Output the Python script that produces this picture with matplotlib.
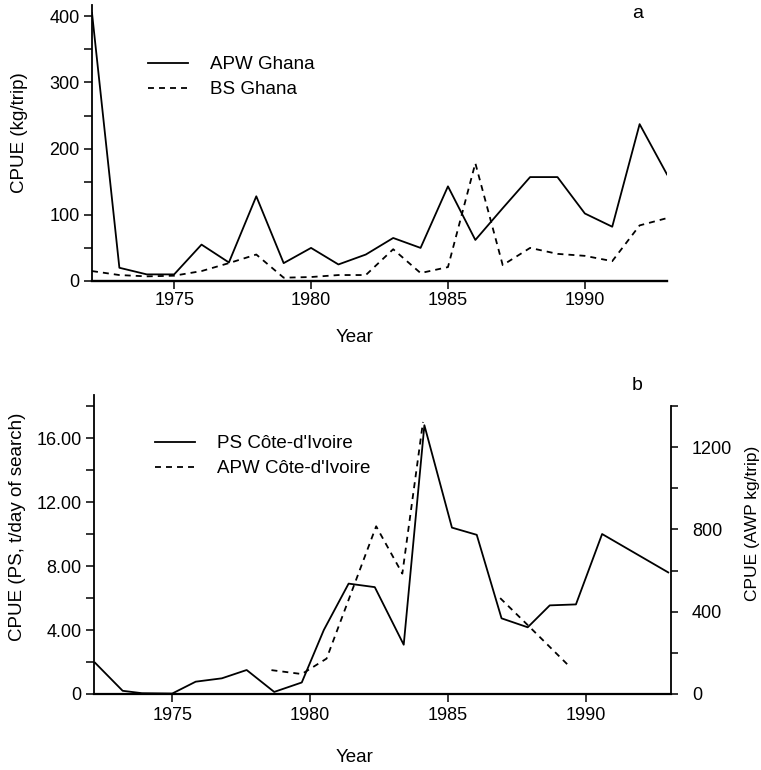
import numpy as np
import matplotlib
matplotlib.use("Agg")
import matplotlib.pyplot as plt
from matplotlib.ticker import FixedLocator

plt.rcParams["font.family"] = ["Liberation Sans", "DejaVu Sans"]

# panel a: Ghana, annual
years_a = [1972, 1973, 1974, 1975, 1976, 1977, 1978, 1979, 1980, 1981, 1982,
           1983, 1984, 1985, 1986, 1987, 1988, 1989, 1990, 1991, 1992, 1993]
apw_ghana = [405, 20, 10, 10, 55, 28, 128, 27, 50, 25, 40,
             65, 50, 143, 62, 110, 157, 157, 102, 82, 237, 161]
bs_ghana = [15, 9, 7, 8, 15, 27, 40, 5, 6, 9, 9,
            48, 12, 21, 178, 24, 50, 41, 38, 30, 84, 95]

# panel b: Cote-d'Ivoire (positions as drawn in the figure)
ps_years = [1972.2, 1973.2, 1973.9, 1975.0, 1975.85, 1976.8, 1977.7, 1978.7,
            1979.7, 1980.5, 1981.4, 1982.35, 1983.4, 1984.15, 1985.15, 1986.05,
            1986.95, 1987.9, 1988.7, 1989.65, 1990.6, 1993.0]
ps_ci = [1.95, 0.2, 0.05, 0.03, 0.77, 0.98, 1.5, 0.13,
         0.72, 4.0, 6.9, 6.68, 3.08, 16.8, 10.4, 9.95,
         4.73, 4.17, 5.54, 5.6, 10.0, 7.6]
apw_years = [1978.6, 1979.7, 1980.6, 1982.4, 1983.35, 1984.1, 1985.5,
             1986.9, 1987.9, 1989.4]
apw_ci = [116, 97, 172, 815, 585, 1322, np.nan, 466, 335, 136]

W, H = 761, 770
TICK_FS = 13
LW = 1.3
DASH = (0, (3.3, 2.8))


def px_axes(left, top, right, bottom):
    return [left / W, 1 - bottom / H, (right - left) / W, (bottom - top) / H]


def style_spine(ax, sides):
    for side, spine in ax.spines.items():
        spine.set_visible(side in sides)
        spine.set_linewidth(1.3)


fig = plt.figure(figsize=(W / 100, H / 100), dpi=100)

# ---- panel a ----
ax_a = fig.add_axes(px_axes(92, 5, 667, 281))
ax_a.plot(years_a, apw_ghana, color="black", lw=LW, label="APW Ghana")
ax_a.plot(years_a, bs_ghana, color="black", lw=LW, linestyle=DASH, label="BS Ghana")
ax_a.set_xlim(1972, 1993)
ax_a.set_ylim(0, 417)
style_spine(ax_a, ("left", "bottom"))
ax_a.spines["bottom"].set_linewidth(1.7)
ax_a.set_xticks([1975, 1980, 1985, 1990])
ax_a.set_yticks([0, 100, 200, 300, 400])
ax_a.yaxis.set_minor_locator(FixedLocator([50, 150, 250, 350]))
ax_a.tick_params(axis="both", which="both", direction="out", length=5.5, width=1.1,
                 labelsize=TICK_FS)
ax_a.tick_params(axis="x", pad=2.5)
ax_a.tick_params(axis="y", pad=3.5)
ax_a.legend(loc="upper left", bbox_to_anchor=((148 - 92) / 575, (281 - 56) / 276),
            frameon=False, fontsize=13.5, handlelength=2.15, handletextpad=1.15,
            borderpad=0, borderaxespad=0, labelspacing=0.42)
fig.text(20 / W, 1 - 133 / H, "CPUE (kg/trip)", rotation=90, ha="center", va="center",
         fontsize=13.5)
fig.text(355 / W, 1 - 337 / H, "Year", ha="center", va="center", fontsize=13.5)
fig.text(638 / W, 1 - 14 / H, "a", ha="center", va="center", fontsize=14)

# ---- panel b ----
ax_b = fig.add_axes(px_axes(94, 395, 671, 694))
ln_ps, = ax_b.plot(ps_years, ps_ci, color="black", lw=LW, label="PS Côte-d'Ivoire")
ax_b.set_xlim(1972.16, 1993.1)
ax_b.set_ylim(0, 18.69)
style_spine(ax_b, ("left", "bottom"))
ax_b.spines["bottom"].set_linewidth(1.6)
ax_b.set_xticks([1975, 1980, 1985, 1990])
ax_b.set_yticks([0, 4, 8, 12, 16])
ax_b.set_yticklabels(["0", "4.00", "8.00", "12.00", "16.00"])
ax_b.yaxis.set_minor_locator(FixedLocator([2, 6, 10, 14, 18]))
ax_b.tick_params(axis="both", which="both", direction="out", length=5.5, width=1.1,
                 labelsize=TICK_FS)
ax_b.tick_params(axis="x", pad=4)
ax_b.tick_params(axis="y", pad=3.5)

ax_b2 = ax_b.twinx()
ln_apw, = ax_b2.plot(apw_years, apw_ci, color="black", lw=LW, linestyle=DASH,
                     label="APW Côte-d'Ivoire")
ax_b2.set_ylim(0, 1453)
style_spine(ax_b2, ("right",))
ax_b2.spines["right"].set_bounds(0, 1400)
ax_b2.set_yticks([0, 400, 800, 1200])
ax_b2.yaxis.set_minor_locator(FixedLocator([200, 600, 1000, 1400]))
ax_b2.tick_params(axis="y", which="both", direction="out", length=5, width=1.1,
                  labelsize=TICK_FS, pad=10)

ax_b.legend([ln_ps, ln_apw], [ln_ps.get_label(), ln_apw.get_label()],
            loc="upper left", bbox_to_anchor=((155 - 94) / 577, (694 - 435) / 299),
            frameon=False, fontsize=13.5, handlelength=2.15, handletextpad=1.15,
            borderpad=0, borderaxespad=0, labelspacing=0.42)
fig.text(18 / W, 1 - 527 / H, "CPUE (PS, t/day of search)", rotation=90,
         ha="center", va="center", fontsize=13.5)
fig.text(752 / W, 1 - 523 / H, "CPUE (AWP kg/trip)", rotation=90,
         ha="center", va="center", fontsize=12.5)
fig.text(355 / W, 1 - 757 / H, "Year", ha="center", va="center", fontsize=13.5)
fig.text(637 / W, 1 - 385 / H, "b", ha="center", va="center", fontsize=14)

fig.savefig("out.png", dpi=100)
plt.close(fig)
